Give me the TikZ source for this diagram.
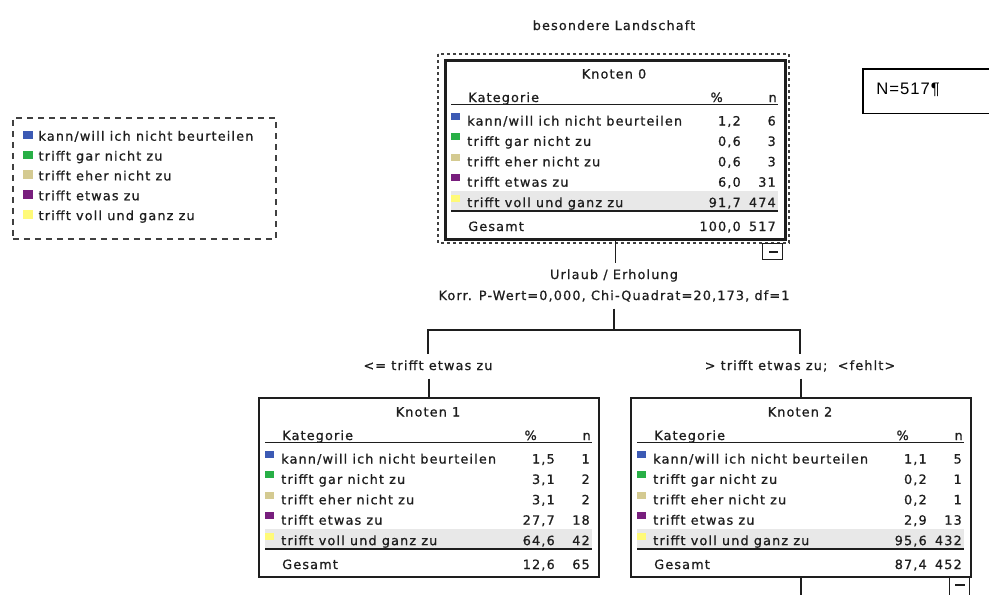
\documentclass[tikz,border=0pt]{standalone}
\usepackage{fontspec}
\setmainfont{DejaVu Sans}[LetterSpace=9, FakeBold=0.9]
\newfontfamily\arialfont{Liberation Sans}[LetterSpace=6]
\definecolor{c1}{RGB}{60,90,180}
\definecolor{c2}{RGB}{40,175,70}
\definecolor{c3}{RGB}{212,202,145}
\definecolor{c4}{RGB}{120,30,125}
\definecolor{c5}{RGB}{255,250,120}
\definecolor{band}{RGB}{232,232,232}
\definecolor{ink}{RGB}{30,30,30}
\newcommand\komma{,}
\newcommand\catname[1]{\ifcase#1\or kann/will ich nicht beurteilen\or trifft gar nicht zu\or trifft eher nicht zu\or trifft etwas zu\or trifft voll und ganz zu\fi}
\tikzset{
  txt/.style={inner sep=0pt, font=\fontsize{9.6}{11}\selectfont, text=ink},
  lbl/.style={txt, text height=7.5pt, text depth=2.2pt, inner ysep=4pt},
  kbox/.style={draw=ink, line width=1.2pt, minimum width=255pt, minimum height=134.6pt, inner sep=0pt, anchor=north west},
  rulel/.style={draw=ink, line width=1.3pt},
  conn/.style={draw=ink, line width=1.1pt},
  dotframe/.style={draw=ink!85, line width=1.6pt, dash pattern=on 2.25pt off 2.25pt},
  legbox/.style={draw=ink!85, line width=1.2pt, dash pattern=on 4.5pt off 3.75pt, inner sep=0pt, anchor=north west},
  minusbox/.style={draw=ink, line width=1pt, inner sep=0pt, anchor=north east, minimum width=15pt},
}
\newcommand\kframe[2]{%
  \fill[band] (7,131.5) rectangle (334,151);
  \node[txt,anchor=base] (#1-title) at (170,19.5) {#2};
  \node[txt,anchor=base west] (#1-kat) at (24,43) {Kategorie};
  \node[txt,anchor=base east] (#1-ph) at (279,43) {\%};
  \node[txt,anchor=base east] (#1-nh) at (333,43) {n};
  \draw[rulel] (7,45.5) -- (334,45.5);
  \draw[rulel] (7,151.8) -- (334,151.8);
  \node[txt,anchor=base west] (#1-ges) at (24,172) {Gesamt};
}
\newcommand\krow[4]{%
  \fill[c#2] (7,46.1+20.4*#2-12.5) rectangle (15.5,46.1+20.4*#2-5.5);
  \node[txt,anchor=base west] (#1-l#2) at (23,46.1+20.4*#2) {\catname{#2}};
  \node[txt,anchor=base east] (#1-p#2) at (297,46.1+20.4*#2) {#3};
  \node[txt,anchor=base east] (#1-n#2) at (332,46.1+20.4*#2) {#4};
}
\newcommand\kges[3]{%
  \node[txt,anchor=base east] (#1-pg) at (297,172) {#2};
  \node[txt,anchor=base east] (#1-ng) at (332,172) {#3};
}
\newcommand\legrow[1]{%
  \fill[c#1] (22.7,120.85+19.85*#1-10) rectangle (33,120.85+19.85*#1-1.5);
  \node[txt,anchor=base west] (leg-l#1) at (38.3,120.85+19.85*#1) {\catname{#1}};
}
\begin{document}
\begin{tikzpicture}[x=0.75pt,y=-0.75pt]
\useasboundingbox (0,0) rectangle (989,594);

\node[txt,anchor=base] (title) at (614,30) {besondere Landschaft};

% legend
\node[legbox, minimum width=197.25pt, minimum height=90.75pt] (legend) at (12,117) {};
\legrow{1}\legrow{2}\legrow{3}\legrow{4}\legrow{5}

% N box
\node[inner sep=0pt, anchor=north west, minimum width=94.5pt, minimum height=33pt] (nbox) at (863,69) {};
\draw[black, line width=0.8pt] (nbox.north east) -- (nbox.north west) -- (nbox.south west) -- (nbox.south east);
\node[inner sep=0pt, anchor=base west, font={\arialfont\fontsize{12.5}{14}\selectfont}] (ntext) at (876,94) {N=517¶};

% Knoten 0
\begin{scope}[shift={(444,59)}]
  \draw[dotframe] (-6,-5) rectangle (345,184);
  \kframe{k0}{Knoten 0}
  \node[kbox, line width=2.2pt, minimum height=134.25pt] (k0) at (0,0) {};
  \krow{k0}{1}{1\komma2}{6}
  \krow{k0}{2}{0\komma6}{3}
  \krow{k0}{3}{0\komma6}{3}
  \krow{k0}{4}{6\komma0}{31}
  \krow{k0}{5}{91\komma7}{474}
  \kges{k0}{100\komma0}{517}
  \node[minusbox, minimum height=12pt] (k0-min) at (339,184) {};
  \draw[ink, line width=1.1pt] (325,193) -- (334,193);
\end{scope}

% Knoten 1
\begin{scope}[shift={(258,397)}]
  \kframe{k1}{Knoten 1}
  \node[kbox] (k1) at (0,0) {};
  \krow{k1}{1}{1\komma5}{1}
  \krow{k1}{2}{3\komma1}{2}
  \krow{k1}{3}{3\komma1}{2}
  \krow{k1}{4}{27\komma7}{18}
  \krow{k1}{5}{64\komma6}{42}
  \kges{k1}{12\komma6}{65}
\end{scope}

% Knoten 2
\begin{scope}[shift={(630,397)}]
  \kframe{k2}{Knoten 2}
  \node[kbox] (k2) at (0,0) {};
  \krow{k2}{1}{1\komma1}{5}
  \krow{k2}{2}{0\komma2}{1}
  \krow{k2}{3}{0\komma2}{1}
  \krow{k2}{4}{2\komma9}{13}
  \krow{k2}{5}{95\komma6}{432}
  \kges{k2}{87\komma4}{452}
  \node[minusbox, minimum height=15pt] (k2-min) at (340,180) {};
  \draw[ink, line width=1.1pt] (325,188) -- (335,188);
\end{scope}

% split labels
\node[lbl, anchor=base] (splitA) at (614,279) {Urlaub / Erholung};
\node[lbl, anchor=base] (splitB) at (614,300) {Korr. P-Wert=0\komma000, Chi-Quadrat=20\komma173, df=1};
\coordinate (sp) at (614,330);
\node[lbl, anchor=base] (lblL) at (428,370) {<= trifft etwas zu};
\node[lbl, anchor=base] (lblR) at (800,370) {> trifft etwas zu;\ \ <fehlt>};
\coordinate (k2end) at (800,600);

\draw[conn] (k0.south) -- (k0.south |- splitA.north);
\draw[conn] (sp |- splitB.south) -- (sp);
\draw[conn] (sp) -| (lblL.north);
\draw[conn] (sp) -| (lblR.north);
\draw[conn] (k1.north |- lblL.south) -- (k1.north);
\draw[conn] (k2.north |- lblR.south) -- (k2.north);
\draw[conn] (k2.south) -- (k2.south |- k2end);
\end{tikzpicture}
\end{document}
